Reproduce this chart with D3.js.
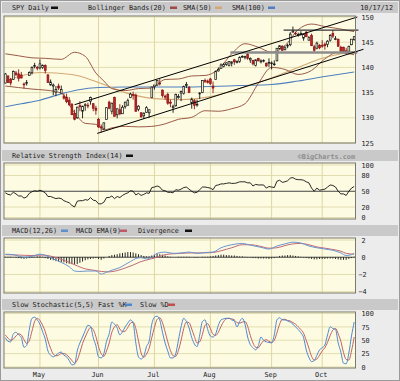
<!DOCTYPE html>
<html>
<head>
<meta charset="utf-8">
<script src="https://cdn.jsdelivr.net/npm/d3@7"></script>
<style>
body { margin: 0; background: #fff; }
svg { display: block; }
text { font-family: "DejaVu Sans Mono", monospace; font-size: 6.8px; fill: #222; }
</style>
</head>
<body>
<svg id="chart" width="400" height="381"></svg>
<script>
// SPY daily, Apr 12 - Oct 17 2012 (trading day index 0..131)
// candles: [open, high, low, close]
const candles = [
[136.9,138.9,136.8,138.7],[138.3,138.4,136.9,137.0],[137.6,137.9,136.4,136.9],[137.6,139.4,137.5,139.2],[138.9,139.3,138.3,138.6],
[138.7,139.6,137.2,137.8],[138.5,139.1,137.8,137.9],[136.7,137.0,135.8,136.6],[136.8,137.5,136.4,137.0],[138.4,139.2,138.3,139.0],
[139.0,140.2,138.6,140.0],[140.2,140.9,139.8,140.4],[140.0,140.3,139.4,139.9],[139.9,141.6,139.6,140.7],[140.0,140.6,139.7,140.4],
[140.4,140.6,138.8,139.4],[138.5,138.7,136.9,137.0],[136.5,137.6,136.4,137.1],[136.3,136.8,134.5,136.5],[135.1,136.3,134.3,135.6],
[136.3,136.8,135.5,135.9],[134.9,136.4,134.9,135.6],[134.3,134.8,133.6,133.9],[134.1,134.8,132.9,133.2],[133.5,134.1,132.3,132.6],
[132.7,132.9,130.6,130.6],[130.9,131.6,129.5,129.7],[130.0,132.2,129.8,132.1],[132.4,133.3,131.3,132.2],[131.3,132.4,129.9,132.3],
[132.6,132.9,131.4,132.6],[132.5,133.0,131.9,132.4],[133.3,134.2,132.6,134.0],[132.8,132.9,131.3,131.9],[131.9,132.4,130.6,131.5],
[129.7,130.0,128.0,128.2],[128.2,128.7,127.1,128.1],[127.8,129.1,127.6,129.0],[129.7,132.1,129.7,132.0],[133.1,133.4,131.7,131.9],
[131.3,133.0,130.7,132.9],[134.0,134.2,130.3,130.3],[130.6,131.8,129.9,131.8],[131.6,132.7,130.5,130.8],[130.8,132.5,130.8,132.1],
[132.2,133.2,131.8,133.1],[132.5,133.8,132.4,133.4],[134.0,135.0,133.9,134.7],[134.6,135.2,133.6,134.5],[134.5,134.8,131.2,131.3],
[131.7,132.5,131.3,132.3],[131.0,131.1,130.0,130.2],[130.4,131.1,129.8,130.9],[131.1,132.3,131.0,132.0],[131.0,131.6,130.0,131.6],
[134.0,136.2,133.9,136.1],[136.2,136.5,135.6,136.5],[136.5,137.5,136.4,137.4],[136.9,137.7,136.4,136.8],[135.5,135.6,134.0,134.4],
[134.3,134.6,133.6,134.1],[134.6,135.0,132.6,132.9],[133.1,133.6,132.1,132.9],[132.0,132.6,131.0,132.3],[132.4,134.8,132.2,134.6],
[134.2,134.7,133.8,134.2],[134.9,135.4,133.3,135.2],[134.8,136.4,134.6,136.2],[136.6,137.1,135.9,136.6],[136.0,136.3,134.9,135.0],
[133.0,134.0,131.8,133.7],[133.4,133.7,131.7,132.5],[132.7,133.6,132.2,132.7],[134.8,135.1,133.7,134.9],[135.0,137.4,134.9,137.4],
[137.4,137.8,136.9,137.3],[137.3,137.6,136.8,137.0],[137.7,137.9,136.5,136.8],[136.3,137.2,134.9,135.9],[137.6,139.4,137.6,139.2],
[139.3,140.0,139.2,139.6],[139.8,140.8,139.8,140.5],[140.2,140.9,140.0,140.6],[140.6,141.0,140.3,140.9],[140.4,141.2,140.2,141.2],
[140.8,141.2,140.2,141.1],[141.5,141.7,140.5,141.1],[141.0,141.4,140.8,141.2],[141.2,142.2,140.9,142.0],[142.2,142.4,141.9,142.2],
[142.0,142.3,141.6,142.2],[142.6,143.1,141.5,141.8],[141.5,142.0,140.9,141.8],[141.4,141.5,140.4,140.7],[140.4,141.6,140.2,141.5],
[141.8,141.9,141.2,141.3],[141.1,141.6,140.8,141.3],[141.4,141.6,141.0,141.4],[140.8,141.0,140.1,140.3],[140.9,141.8,140.1,141.0],
[140.9,141.2,139.6,140.9],[140.7,141.4,140.3,140.7],[141.3,143.8,141.2,143.8],[143.7,144.4,143.6,144.3],[144.2,144.4,143.3,143.4],
[143.5,144.3,143.4,143.9],[144.3,144.7,143.8,144.4],[144.5,147.0,144.2,146.6],[147.0,148.1,146.9,147.2],[146.8,147.1,146.4,146.7],
[146.4,146.9,146.1,146.5],[146.7,147.2,146.3,146.7],[145.8,146.6,145.3,146.5],[147.0,147.2,146.0,146.1],[145.4,146.2,145.3,145.9],
[146.3,146.7,144.3,144.3],[144.1,144.5,143.0,143.4],[143.8,145.1,143.6,144.8],[144.4,144.6,143.6,143.9],[144.4,145.4,143.9,144.2],
[144.6,144.9,143.5,144.3],[144.6,145.4,144.0,145.2],[145.4,146.6,145.1,146.3],[146.7,147.4,145.8,146.2],[145.7,146.2,145.4,145.7],
[145.6,145.7,144.1,144.2],[144.0,144.3,143.1,143.2],[144.0,144.1,143.0,143.1],[143.3,143.9,142.6,142.8],[143.2,144.3,142.6,144.2],
[144.5,145.6,144.4,145.6],[145.5,146.2,145.3,146.1]
];

// overlays: [day index, price]
const bbUpper = [[0,142.7],[5,142.3],[10,141.9],[15,141.8],[21,141.6],[26,143.0],[30,142.2],[34,138.9],[37,137.3],[40,135.8],[45,135.4],
  [50,135.8],[55,135.9],[60,137.6],[65,137.7],[70,138.3],[75,138.4],[80,139.6],[85,142.7],[90,144.7],[95,144.0],[100,143.0],
  [105,144.3],[110,147.5],[115,148.6],[120,148.1],[125,147.7],[131,147.1]];
const bbLower = [[0,136.3],[5,136.0],[10,135.7],[15,135.5],[21,134.9],[26,131.0],[30,128.9],[34,128.7],[37,127.6],[40,128.0],[45,128.3],
  [50,128.2],[55,128.3],[60,128.8],[65,129.7],[70,130.1],[75,131.4],[80,131.3],[85,131.8],[90,132.8],[95,136.8],[100,140.0],
  [105,139.6],[110,138.6],[115,139.4],[120,141.7],[125,143.0],[131,142.5]];
const sma50 = [[0,137.3],[13,139.0],[25,138.6],[35,137.0],[45,135.0],[56,133.8],[66,133.6],[77,134.2],[88,135.8],[100,137.9],
  [110,140.0],[119,141.8],[131,143.2]];
const sma100 = [[0,132.2],[6,132.8],[13,133.5],[20,134.6],[27,135.5],[35,136.0],[45,136.1],[56,136.1],[66,136.1],[77,136.2],
  [88,136.4],[100,136.6],[110,137.3],[120,138.2],[131,139.1]];
const channelUpper = [[26,132.6],[132.2,150.0]];
const channelLower = [[34.5,126.9],[134.5,143.6]];
const resistance = [[104.5,147.4],[132.6,147.4]];
const support = [[84.5,142.95],[132.2,142.95]];

const rsi = [
47,44,43,48,45,41,41,37,39,46, 49,51,50,52,50,47,40,40,38,36, 37,36,32,30,28,23,20,31,32,32,
34,33,38,33,32,26,26,29,38,38, 41,36,40,38,42,45,47,51,50,43, 46,42,44,47,46,57,58,60,58,52,
51,48,48,47,53,52,54,57,58,54, 50,47,48,53,58,58,57,56,53,61, 62,64,64,65,66,65,65,66,68,68,
68,66,66,60,63,62,62,62,56,59, 58,57,69,71,67,68,70,75,76,73, 72,72,71,68,66,56,50,56,52,53,
54,58,62,61,58,50,45,45,42,50, 56,59];

const macdLine = [[0,0.35],[3,0.3],[7,0.0],[10,0.1],[13,0.35],[16,0.1],[18,-0.2],[21,-0.6],[24,-1.1],[26,-1.6],[28,-1.65],
  [31,-1.6],[34,-1.6],[36,-1.95],[38,-1.75],[40,-1.5],[43,-1.2],[45,-0.85],[47,-0.5],[49,-0.15],[51,-0.05],[53,-0.2],[55,0.0],
  [57,0.45],[60,0.6],[63,0.45],[66,0.5],[69,0.6],[72,0.45],[75,0.55],[78,0.6],[81,1.1],[85,1.45],[89,1.6],[92,1.4],[96,1.15],
  [99,0.95],[102,1.3],[105,1.55],[108,1.75],[111,1.65],[114,1.3],[117,1.1],[120,0.95],[123,0.8],[126,0.5],[128,0.2],[130,0.3],[131,0.45]];
const signalLine = [[0,0.3],[5,0.25],[10,0.2],[14,0.25],[18,0.05],[21,-0.25],[24,-0.6],[27,-1.0],[30,-1.35],[33,-1.5],[36,-1.65],
  [39,-1.7],[42,-1.55],[45,-1.25],[48,-0.9],[51,-0.5],[54,-0.25],[57,0.0],[60,0.3],[63,0.4],[66,0.45],[70,0.5],[74,0.5],[78,0.55],
  [81,0.75],[85,1.1],[89,1.45],[92,1.45],[96,1.25],[99,1.05],[102,1.1],[105,1.35],[108,1.55],[111,1.6],[114,1.45],[117,1.2],
  [120,1.05],[123,0.9],[126,0.7],[128,0.45],[131,0.35]];
const divergence = [
0.05,0.05,0.05,0,-0.05,-0.1,-0.15,-0.2,-0.15,-0.1, -0.05,0.05,0.1,0.1,0.05,-0.1,-0.2,-0.3,-0.35,-0.45,
-0.5,-0.55,-0.6,-0.7,-0.75,-0.8,-0.85,-0.8,-0.65,-0.5, -0.35,-0.25,-0.2,-0.15,-0.1,-0.2,-0.3,-0.15,0,0.15,
0.25,0.3,0.35,0.45,0.5,0.55,0.6,0.6,0.55,0.45, 0.35,0.25,0.15,0.1,0.1,0.2,0.3,0.4,0.35,0.3,
0.2,0.1,0.05,0,0,0.05,0.05,0.05,0.05,0.05, 0,-0.05,-0.05,0,0.05,0.05,0.05,0.1,0.15,0.2,
0.25,0.3,0.3,0.25,0.25,0.2,0.2,0.15,0.1,0.1, 0.05,-0.05,-0.05,-0.1,-0.1,-0.15,-0.15,-0.15,-0.15,-0.2,
-0.15,-0.1,0.05,0.15,0.2,0.2,0.25,0.25,0.2,0.15, 0.1,0.05,-0.05,-0.1,-0.15,-0.2,-0.25,-0.25,-0.2,-0.2,
-0.2,-0.15,-0.15,-0.15,-0.2,-0.25,-0.3,-0.3,-0.3,-0.2, -0.1,0.05];

const stochK = [
55,48,47,62,65,60,55,37,40,70, 91,93,88,80,66,52,30,22,19,22, 26,28,22,19,12,4,5,30,45,56,
68,78,76,55,40,19,17,25,48,62, 84,80,73,60,66,75,82,88,82,45, 19,15,20,38,48,80,93,95,88,65,
45,30,17,17,25,50,75,91,85,73, 55,43,38,60,85,88,70,58,56,62, 78,88,90,91,91,88,86,75,85,91,
80,56,42,36,32,40,56,50,47,46, 45,60,88,92,88,88,86,84,80,75, 70,64,55,32,18,10,12,22,32,36,
41,60,75,72,70,45,28,7,6,26, 58,84];
const stochD = [
60,54,50,52,58,62,60,51,44,49, 67,85,91,87,78,66,49,35,24,21, 22,25,25,23,18,12,7,13,27,44,
56,67,74,70,57,38,25,20,30,45, 65,75,79,71,66,67,74,82,84,72, 49,26,18,24,35,55,74,89,92,83,
66,47,31,21,20,31,50,72,84,83, 71,57,45,47,61,78,81,72,61,59, 65,76,85,90,91,90,88,83,82,84,
85,76,59,45,37,36,43,49,51,48, 46,50,64,80,89,89,87,86,83,80, 75,70,63,50,35,20,13,15,22,30,
36,46,59,69,72,62,48,27,14,13, 30,56];

const months = ["May", "Jun", "Jul", "Aug", "Sep", "Oct"];
const monthStart = [13, 35, 56, 77, 100, 119];
const priceTicks = [150, 145, 140, 135, 130, 125];
const rsiTicks = [100, 80, 50, 20, 0];
const macdTicks = [2, 0, -2, -4];
const stochTicks = [100, 75, 50, 25, 0];

const svg = d3.select("#chart");
const L = 4, R = 355.5;

svg.append("rect").attr("x", 0.5).attr("y", 0.5).attr("width", 399).attr("height", 380)
    .attr("fill", "#ececec").attr("stroke", "#9a9a9a");

const x = d3.scaleLinear().domain([-0.5, 131.5]).range([L, R]);
const yP = d3.scaleLinear().domain([125, 150]).range([143, 17]);
const yR = d3.scaleLinear().domain([0, 100]).range([217.5, 165]);
const yM = d3.scaleLinear().domain([-4, 2]).range([291.7, 240]);
const yS = d3.scaleLinear().domain([0, 100]).range([367, 313.5]);

// header bar with title and legend swatches
function header(y0, items, right) {
    svg.append("rect").attr("x", 2).attr("y", y0).attr("width", 396).attr("height", 11).attr("fill", "#c9c9c9");
    items.forEach(it => {
        svg.append("text").attr("x", it.x).attr("y", y0 + 8).text(it.label);
        if (it.color) svg.append("rect").attr("x", it.sx).attr("y", y0 + 4.5).attr("width", 7).attr("height", 2.5).attr("fill", it.color);
    });
    if (right) right(y0);
}

// plot background, grid and right axis
function panel(y0, y1, scale, ticks, dark) {
    const g = svg.append("g");
    g.append("rect").attr("x", L).attr("y", y0).attr("width", R - L).attr("height", y1 - y0).attr("fill", "#fdfce2");
    g.selectAll(".hg").data(ticks.filter(t => !dark.includes(t))).enter().append("line")
        .attr("x1", L).attr("x2", R).attr("y1", d => scale(d)).attr("y2", d => scale(d))
        .attr("stroke", "#e2ddb0").attr("stroke-width", 1);
    g.selectAll(".vg").data(monthStart).enter().append("line")
        .attr("x1", d => x(d)).attr("x2", d => x(d)).attr("y1", y0).attr("y2", y1)
        .attr("stroke", "#ddd6a4").attr("stroke-width", 1);
    g.selectAll(".dg").data(dark).enter().append("line")
        .attr("x1", L).attr("x2", R).attr("y1", d => scale(d)).attr("y2", d => scale(d))
        .attr("stroke", "#444").attr("stroke-width", 1);
    const ax = svg.append("g").attr("transform", "translate(" + (R + 1) + ",0)")
        .call(d3.axisRight(scale).tickValues(ticks).tickSize(0).tickPadding(5).tickFormat(d3.format("d")));
    ax.select(".domain").remove();
    ax.selectAll("text").attr("font-family", "DejaVu Sans Mono").attr("font-size", 6.8).attr("fill", "#222")
        .attr("dx", d => d < 0 ? -3 : 0);
    return g;
}

function border(y0, y1) {
    svg.append("rect").attr("x", L).attr("y", y0).attr("width", R - L).attr("height", y1 - y0)
        .attr("fill", "none").attr("stroke", "#7a7a6a").attr("stroke-width", 1);
}

function clip(id, y0, y1) {
    svg.append("clipPath").attr("id", id).append("rect").attr("x", L).attr("y", y0).attr("width", R - L).attr("height", y1 - y0);
}

const pairLine = (ys) => d3.line().x(d => x(d[0])).y(d => ys(d[1])).curve(d3.curveMonotoneX);
const dayLine = (ys) => d3.line().x((d, i) => x(i)).y(d => ys(d));

// ---------- price panel ----------
header(2, [
    { x: 12, label: "SPY Daily", sx: 51, color: "#111" },
    { x: 88, label: "Bollinger Bands(20)", sx: 170, color: "#a04848" },
    { x: 183, label: "SMA(50)", sx: 215, color: "#d4a874" },
    { x: 232, label: "SMA(100)", sx: 268, color: "#4f7fbf" }
], y0 => svg.append("text").attr("x", 393).attr("y", y0 + 8).attr("text-anchor", "end").text("10/17/12"));

panel(16, 143, yP, priceTicks, []);
clip("clipMain", 16, 143);
const main = svg.append("g").attr("clip-path", "url(#clipMain)");

main.append("path").attr("d", pairLine(yP)(sma100)).attr("fill", "none").attr("stroke", "#4f7fbf").attr("stroke-width", 1.1);
main.append("path").attr("d", pairLine(yP)(sma50)).attr("fill", "none").attr("stroke", "#d4a874").attr("stroke-width", 1.1);
[bbUpper, bbLower].forEach(b => main.append("path").attr("d", pairLine(yP)(b))
    .attr("fill", "none").attr("stroke", "#9a5a48").attr("stroke-width", 1));

const straight = d3.line().x(d => x(d[0])).y(d => yP(d[1]));
svg.append("path").attr("d", straight(support)).attr("stroke", "#8c8c8c").attr("stroke-width", 2.5).attr("fill", "none");
svg.append("path").attr("d", straight(resistance)).attr("stroke", "#333").attr("stroke-width", 1.2).attr("fill", "none");
[channelUpper, channelLower].forEach(c => svg.append("path").attr("d", straight(c))
    .attr("stroke", "#000").attr("stroke-width", 1).attr("fill", "none"));

const up = d => d[3] >= d[0];
main.selectAll(".wick").data(candles).enter().append("line")
    .attr("x1", (d, i) => x(i)).attr("x2", (d, i) => x(i))
    .attr("y1", d => yP(d[1])).attr("y2", d => yP(d[2]))
    .attr("stroke", d => up(d) ? "#111" : "#8c1414").attr("stroke-width", 0.9);
main.selectAll(".body").data(candles).enter().append("rect")
    .attr("x", (d, i) => x(i) - 0.9).attr("width", 1.8)
    .attr("y", d => yP(Math.max(d[0], d[3])))
    .attr("height", d => Math.max(0.8, Math.abs(yP(d[0]) - yP(d[3]))))
    .attr("fill", d => up(d) ? "#fdfce2" : "#c02424")
    .attr("stroke", d => up(d) ? "#111" : "#8c1414").attr("stroke-width", 0.7);
border(16, 143);

// ---------- RSI ----------
header(150, [{ x: 12, label: "Relative Strength Index(14)", sx: 126, color: "#111" }], y0 =>
    svg.append("text").attr("x", 355).attr("y", y0 + 8.5).attr("text-anchor", "end")
        .attr("font-weight", "bold").attr("font-size", 7.4).style("fill", "#8e8e8e").text("\u00a9BigCharts.com"));
panel(163, 219, yR, rsiTicks, [50]);
clip("clipRsi", 163, 219);
svg.append("path").attr("clip-path", "url(#clipRsi)").attr("d", dayLine(yR)(rsi))
    .attr("fill", "none").attr("stroke", "#111").attr("stroke-width", 0.9);
border(163, 219);

// ---------- MACD ----------
header(225, [
    { x: 12, label: "MACD(12,26)", sx: 61, color: "#5f8fd0" },
    { x: 76, label: "MACD EMA(9)", sx: 120, color: "#c05868" },
    { x: 138, label: "Divergence", sx: 185, color: "#111" }
]);
panel(238, 293, yM, macdTicks, [0]);
clip("clipMacd", 238, 293);
const macdG = svg.append("g").attr("clip-path", "url(#clipMacd)");
macdG.selectAll(".bar").data(divergence).enter().append("line")
    .attr("x1", (d, i) => x(i)).attr("x2", (d, i) => x(i))
    .attr("y1", yM(0)).attr("y2", d => yM(d))
    .attr("stroke", "#111").attr("stroke-width", 0.9);
macdG.append("path").attr("d", pairLine(yM)(signalLine)).attr("fill", "none").attr("stroke", "#c06878").attr("stroke-width", 1);
macdG.append("path").attr("d", pairLine(yM)(macdLine)).attr("fill", "none").attr("stroke", "#6a94d0").attr("stroke-width", 1);
border(238, 293);

// ---------- Slow stochastic ----------
header(299, [
    { x: 12, label: "Slow Stochastic(5,5)", sx: null },
    { x: 98, label: "Fast %K", sx: 125, color: "#4f86d0" },
    { x: 140, label: "Slow %D", sx: 168, color: "#c05050" }
]);
panel(312, 368, yS, stochTicks, []);
clip("clipSto", 312, 368);
const stoG = svg.append("g").attr("clip-path", "url(#clipSto)");
stoG.append("path").attr("d", dayLine(yS).curve(d3.curveMonotoneX)(stochD)).attr("fill", "none").attr("stroke", "#c06060").attr("stroke-width", 1);
stoG.append("path").attr("d", dayLine(yS).curve(d3.curveMonotoneX)(stochK)).attr("fill", "none").attr("stroke", "#4f86d0").attr("stroke-width", 1);
border(312, 368);

// month labels
svg.selectAll(".month").data(months).enter().append("text")
    .attr("x", (d, i) => x(monthStart[i]) - 1).attr("y", 377).attr("text-anchor", "middle").text(d => d);
</script>
</body>
</html>
